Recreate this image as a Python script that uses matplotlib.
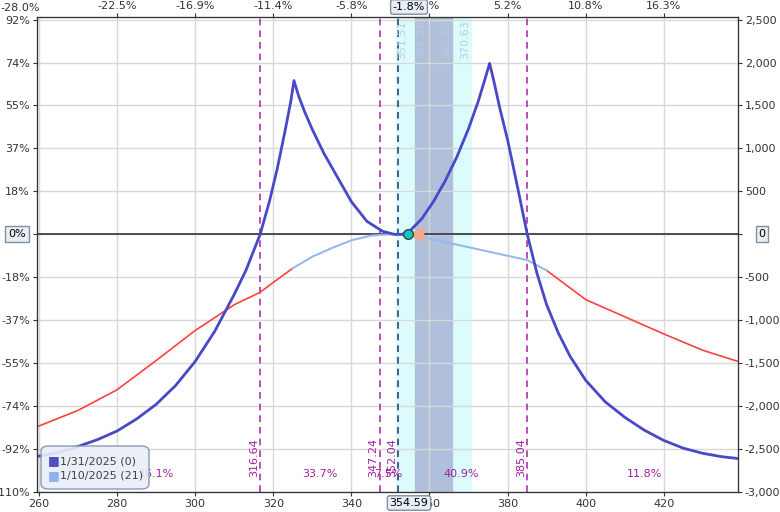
import matplotlib
matplotlib.use("Agg")
import matplotlib.pyplot as plt
from matplotlib.patches import FancyBboxPatch

exp_x = [259, 265, 270, 275, 280, 285, 290, 295, 300, 305, 310, 313, 316.64, 319, 321, 323, 324.5, 325.3,
         326.5, 328, 330, 333, 336, 340, 344, 348, 351, 353, 355, 358, 361, 364, 367, 370, 372.5, 374.3, 375.4,
         376.5, 378, 380, 382.5, 385.04, 387.5, 390, 393, 396, 400, 405, 410, 415, 420, 425, 430, 435, 439]
exp_y = [-2590, -2540, -2470, -2390, -2290, -2150, -1980, -1760, -1480, -1130, -700, -420, 0, 380, 760, 1200, 1550, 1790,
         1610, 1430, 1220, 940, 700, 380, 150, 35, 0, 0, 40, 180, 380, 620, 900, 1230, 1550, 1820, 1990,
         1780, 1470, 1100, 560, 0, -450, -820, -1150, -1420, -1700, -1950, -2130, -2280, -2400, -2490, -2550, -2590, -2610]
red_l_x = [259, 270, 280, 290, 300, 310, 316.64, 320, 325]
red_l_y = [-2250, -2050, -1810, -1470, -1120, -820, -675, -560, -395]
t0_x = [325, 330, 335, 340, 345, 350, 355, 360, 370, 380, 385, 390]
t0_y = [-395, -260, -160, -70, -15, 0, -10, -50, -150, -250, -300, -420]
red_r_x = [390, 400, 410, 420, 430, 439]
red_r_y = [-420, -760, -960, -1160, -1350, -1480]

xticks = [260, 280, 300, 320, 340, 360, 380, 400, 420]
top_labels = ["", "-22.5%", "-16.9%", "-11.4%", "-5.8%", ".3%", "5.2%", "10.8%", "16.3%"]
yticks = [2500, 2000, 1500, 1000, 500, 0, -500, -1000, -1500, -2000, -2500, -3000]
left_labels = ["92%", "74%", "55%", "37%", "18%", "", "-18%", "-37%", "-55%", "-74%", "-92%", "-110%"]
right_labels = ["2,500", "2,000", "1,500", "1,000", "500", "", "-500", "-1,000", "-1,500", "-2,000", "-2,500", "-3,000"]
magenta_lines = [316.64, 347.24, 385.04]
navy_line = 352.04
band_outer = (351.51, 370.63)
band_inner = (356.29, 365.85)
pct_labels = [(290, "16.1%"), (332, "33.7%"), (349.5, "7.5%"), (368, "40.9%"), (415, "11.8%")]
price = 354.59
legend_labels = ["1/31/2025 (0)", "1/10/2025 (21)"]

FS = 8
fig = plt.figure(figsize=(7.8, 5.12), dpi=100)
ax = fig.add_axes([37/780, 20/512, 701/780, 475/512])
ax.set_xlim(259.5, 439)
ax.set_ylim(-3000, 2530)

ax.axvspan(*band_outer, color="#dcfcfc", zorder=0)
ax.axvspan(*band_inner, color="#b0c0da", zorder=0)
for x in xticks:
    ax.axvline(x, color="#d8d8d8", lw=1, zorder=0.5)
for y in yticks:
    ax.axhline(y, color="#d8d8d8", lw=1, zorder=0.5)
ax.axhline(0, color="#333333", lw=1.2, zorder=2)

for x in magenta_lines:
    ax.axvline(x, color="#b030b0", lw=1.2, ls=(0, (4, 3)), zorder=2)
ax.axvline(navy_line, color="#304080", lw=1.2, ls=(0, (4, 3)), zorder=2)

ax.plot(red_l_x, red_l_y, color="#ff4040", lw=1.2, zorder=3)
ax.plot(red_r_x, red_r_y, color="#ff4040", lw=1.2, zorder=3)
ax.plot(t0_x, t0_y, color="#9ab8ee", lw=1.5, zorder=3)
ax.plot(exp_x, exp_y, color="#4848c8", lw=2, zorder=4)

ax.fill([price, 358.5, 358.5], [0, 80, -80], color="#f4a890", zorder=4)
ax.plot([price], [0], "o", ms=7, mfc="#20c0c0", mec="#205050", zorder=5)

for x in magenta_lines + [navy_line]:
    ax.text(x - 0.3, -2600, f"{x:.2f}", rotation=90, color="#a020a0", fontsize=FS,
            ha="right", va="center", zorder=6)
for x, dx in [(band_outer[0], 2.9), (band_inner[0], 2.9), (band_inner[1], -0.3), (band_outer[1], -0.3)]:
    ax.text(x + dx, 2490, f"{x:.2f}", rotation=90, color="#b8cce0", fontsize=FS,
            ha="right", va="top", zorder=6)
for x, t in pct_labels:
    ax.text(x, -2790, t, color="#a020a0", fontsize=FS, ha="center", va="center", zorder=6)

ax.set_xticks(xticks)
ax.set_yticks(yticks)
ax.set_yticklabels(left_labels)
ax.tick_params(labelsize=FS, colors="#333333", length=3, pad=2)
ax2 = ax.twinx()
ax2.set_ylim(ax.get_ylim())
ax2.set_yticks(yticks)
ax2.set_yticklabels(right_labels)
ax2.tick_params(labelsize=FS, colors="#333333", length=3, pad=2)
ax3 = ax.twiny()
ax3.set_xlim(ax.get_xlim())
ax3.set_xticks(xticks[1:])
ax3.set_xticklabels(top_labels[1:])
ax3.tick_params(labelsize=FS, colors="#333333", length=3, pad=1)
fig.text(20/780, 1-8/512, "-28.0%", fontsize=FS, color="#333333", ha="center", va="center")
for a in (ax, ax2, ax3):
    for s in a.spines.values():
        s.set_color("#333333")

box = dict(boxstyle="round,pad=0.2", fc="#e8eef4", ec="#8090a0", lw=1)
fig.text(409/780, 1-7/512, "-1.8%", fontsize=FS, ha="center", va="center", bbox=box)
fig.text(409/780, 1-503/512, "354.59", fontsize=FS, ha="center", va="center", bbox=box)
fig.text(17/780, 1-234/512, "0%", fontsize=FS, ha="center", va="center",
         bbox=dict(boxstyle="square,pad=0.25", fc="#e8eef4", ec="#8090a0", lw=1))
fig.text(762/780, 1-234/512, "0", fontsize=FS, ha="center", va="center",
         bbox=dict(boxstyle="square,pad=0.25", fc="#e8eef4", ec="#8090a0", lw=1))

# legend
lg = FancyBboxPatch((41/780, 1-489/512), 108/780, 43/512, boxstyle="round,pad=0,rounding_size=0.01",
                    transform=fig.transFigure, fc="#e8eef8", ec="#8090a8", lw=1, alpha=0.9, zorder=10)
fig.add_artist(lg)
for i, (lab, col) in enumerate(zip(legend_labels, ["#5050c0", "#90b0f0"])):
    yy = 1 - (461 + 15 * i) / 512
    fig.text(48/780, yy, "\u25A0", fontsize=9, color=col, va="center", ha="left", zorder=11)
    fig.text(60/780, yy, lab, fontsize=FS, color="#404040", va="center", ha="left", zorder=11)

fig.savefig("out.png", dpi=100)
